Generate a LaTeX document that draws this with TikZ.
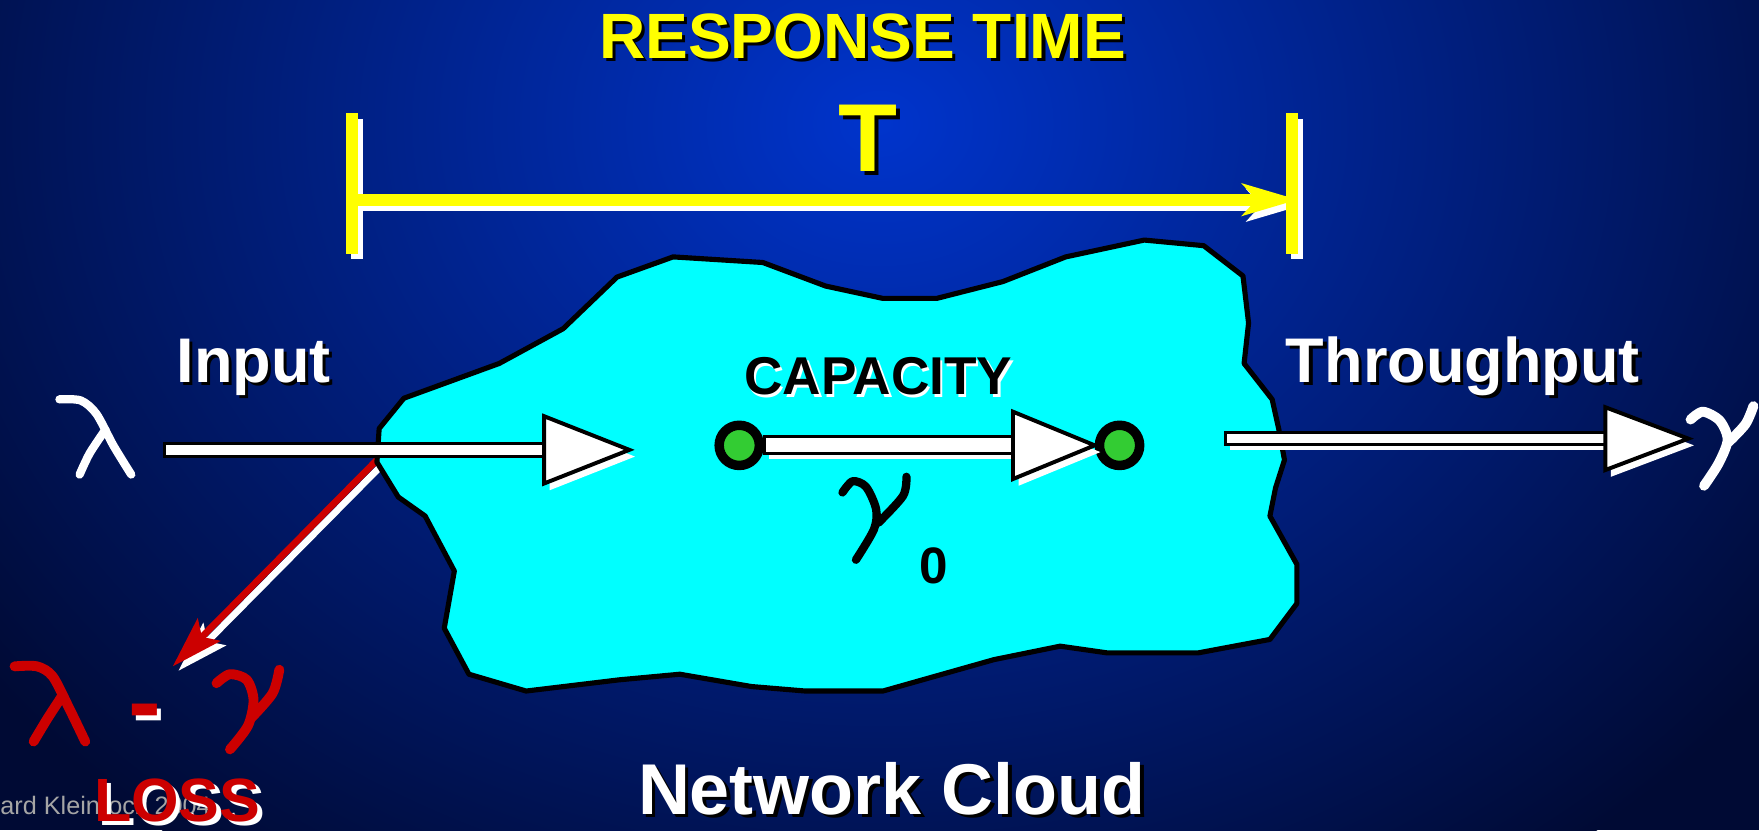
\documentclass[tikz,border=0pt]{standalone}
\usepackage{fontspec}
\setmainfont{Liberation Sans}
\usetikzlibrary{arrows.meta,calc}

\definecolor{bgcentre}{RGB}{0,52,204}
\definecolor{bgedge}{RGB}{0,10,52}
\definecolor{cloudcyan}{RGB}{0,255,255}
\definecolor{nodegreen}{RGB}{51,204,51}
\definecolor{lossred}{RGB}{204,0,0}
\definecolor{timeyellow}{RGB}{255,255,0}
\definecolor{footgray}{RGB}{165,165,165}

\tikzset{
  titletext/.style={font=\bfseries\fontsize{32.5}{40}\selectfont, text=timeyellow, inner sep=0pt, anchor=base},
  bigT/.style={font=\bfseries\fontsize{49}{58}\selectfont, text=timeyellow, inner sep=0pt, anchor=base},
  bigtext/.style={font=\bfseries\fontsize{32}{38}\selectfont, text=white, inner sep=0pt, anchor=base},
  captext/.style={font=\bfseries\fontsize{27}{32}\selectfont, text=black, inner sep=0pt, anchor=base},
  cloudtext/.style={font=\bfseries\fontsize{36.5}{42}\selectfont, text=white, inner sep=0pt, anchor=base},
  losstext/.style={font=\bfseries\fontsize{31}{37}\selectfont, text=lossred, inner sep=0pt, anchor=base},
  dashtext/.style={font=\bfseries\fontsize{50}{58}\selectfont, text=lossred, inner sep=0pt, anchor=base},
  subtext/.style={font=\bfseries\fontsize{26}{31}\selectfont, text=black, inner sep=0pt, anchor=base},
  foot/.style={font=\fontsize{12.8}{15}\selectfont, text=footgray, inner sep=0pt, anchor=base west},
  bracket/.style={color=timeyellow, line width=6pt},
  lossarrow/.style={color=lossred, line width=3.4pt, -{Stealth[length=26pt, width=16pt, inset=5pt]}},
  cloud/.style={fill=cloudcyan, draw=black, line width=2.6pt, line join=round},
  netnode/.style={circle, draw=black, line width=4.8pt, fill=nodegreen, minimum size=20.4pt, inner sep=0pt},
  fatbar/.style={fill=white, draw=black, line width=1.5pt},
  fathead/.style={fill=white, draw=black, line width=2pt},
  pen/.style={line width=4.2pt, line cap=round, line join=round}
}

% white bar with a triangle head: tail, head base, tip, half bar, half head, bar shadow
\newcommand{\fatarrow}[6]{%
  \fill[white] ($(#1)+(4,#6-#4)$) rectangle ($(#2)+(4,#6+#4)$);
  \fill[white] ($(#2)+(5,6-#5)$) -- ($(#2)+(5,6+#5)$) -- ($(#3)+(5,6)$) -- cycle;
  \filldraw[fatbar] ($(#1)+(0,-#4)$) rectangle ($(#2)+(0,#4)$);
  \filldraw[fathead] ($(#2)+(0,-#5)$) -- ($(#2)+(0,#5)$) -- (#3) -- cycle;}

\begin{document}
\begin{tikzpicture}[x=0.02cm, y=-0.02cm]
  \useasboundingbox (0,0) rectangle (1568,740);
  % Background
  \fill[bgedge] (0,0) rectangle (1568,740);
  \begin{scope}
    \clip (0,0) rectangle (1568,740);
    \shade[inner color=bgcentre, outer color=bgedge] (784,110) ellipse [x radius=20cm, y radius=16.4cm];
  \end{scope}

  % Response time bracket
  \coordinate (tleft) at (314,178);
  \coordinate (tright) at (1152,178);
  \foreach \p in {tleft, tright} {
    \draw[bracket, white] ($(\p)+(4,-72)$) -- ($(\p)+(4,53)$);
  }
  \draw[bracket, white, -{Stealth[length=28pt, width=16pt, inset=7pt]}] ($(tleft)+(4,5)$) -- ($(tright)+(9,5)$);
  \foreach \p in {tleft, tright} {
    \draw[bracket] ($(\p)+(0,-77)$) -- ($(\p)+(0,48)$);
  }
  \draw[bracket, -{Stealth[length=28pt, width=16pt, inset=7pt]}] (tleft) -- ($(tright)+(5,0)$);

  % Titles
  \node[titletext, text=black] (title-sh) at (772,55) {RESPONSE TIME};
  \node[titletext] (title) at (769,52) {RESPONSE TIME};
  \node[bigT, text=black] (T-sh) at (777,156) {T};
  \node[bigT] (T) at (774,153) {T};

  % Loss arrow
  \coordinate (lossstart) at (340,406);
  \coordinate (losstip) at (154,594);
  \draw[lossarrow, white] ($(lossstart)+(5,4)$) -- ($(losstip)+(5,4)$);
  \draw[lossarrow] (lossstart) -- (losstip);

  % Network cloud
  \draw[cloud] (360,355) -- (445,324) -- (502,293) -- (550,247) -- (600,229) -- (680,234)
    -- (736,255) -- (787,266) -- (835,266) -- (894,251) -- (950,229) -- (1020,214)
    -- (1073,219) -- (1108,246) -- (1113,288) -- (1109,324) -- (1134,356) -- (1140,383)
    -- (1145,410) -- (1137,435) -- (1132,460) -- (1156,503) -- (1156,538) -- (1132,570)
    -- (1068,582) -- (987,582) -- (945,576) -- (886,588) -- (787,616) -- (718,616)
    -- (670,612) -- (606,601) -- (552,606) -- (469,616) -- (418,601) -- (396,560)
    -- (405,509) -- (379,460) -- (355,443) -- (336,412) -- (338,382) -- cycle;

  % Capacity link
  \node[netnode] (src) at (659,397) {};
  \node[netnode] (dst) at (998,397) {};
  \coordinate (capB) at (903,397);
  \fatarrow{src.east}{capB}{dst.west}{7.5}{30}{5}

  % Input and throughput arrows
  \coordinate (inA) at (147,401);
  \coordinate (inB) at (485,401);
  \coordinate (inC) at (561,401);
  \fatarrow{inA}{inB}{inC}{6}{30}{0}
  \coordinate (outA) at (1092,391);
  \coordinate (outB) at (1431,391);
  \coordinate (outC) at (1505,391);
  \fatarrow{outA}{outB}{outC}{5.5}{28}{5}

  % Labels
  \node[bigtext, text=black] (input-sh) at (229,344) {Input};
  \node[bigtext] (input) at (226,341) {Input};
  \node[bigtext, text=black] (thru-sh) at (1307,344) {Throughput};
  \node[bigtext] (thru) at (1304,341) {Throughput};
  \node[captext, text=white] (cap-sh) at (785,354) {CAPACITY};
  \node[captext] (cap) at (783,352) {CAPACITY};
  \node[cloudtext, text=black] (cloud-sh) at (798,729) {Network Cloud};
  \node[cloudtext] (cloudname) at (795,726) {Network Cloud};

  % Hand-written symbols
  \draw[pen, white] plot[smooth] coordinates {(53,356) (72,357) (86,369) (101,397) (117,423)};
  \draw[pen, white] plot[smooth] coordinates {(94,383) (80,404) (71,423)};
  \draw[pen, white, line width=5pt] plot[smooth] coordinates {(1507,374) (1518,367) (1533,375) (1540,392) (1532,413) (1519,433)};
  \draw[pen, white, line width=5pt] plot[smooth] coordinates {(1563,362) (1556,378) (1541,394)};
  \draw[pen] plot[smooth] coordinates {(751,439) (760,429) (772,434) (781,454) (779,472) (763,499)};
  \draw[pen] plot[smooth] coordinates {(808,425) (805,442) (783,466)};
  \node[subtext] (sub) at (832,520) {0};

  % Loss
  \draw[pen, lossred, line width=5pt] plot[smooth] coordinates {(13,594) (33,594) (47,603) (62,632) (76,661)};
  \draw[pen, lossred, line width=5pt] plot[smooth] coordinates {(55,621) (42,641) (30,661)};
  \node[dashtext, text=white] (dash-sh) at (133,660) {-};
  \node[dashtext] (dash) at (129.5,656) {-};
  \draw[pen, lossred, line width=5pt] plot[smooth] coordinates {(193,609) (205,601) (220,606) (226,624) (221,647) (205,668)};
  \draw[pen, lossred, line width=5pt] plot[smooth] coordinates {(249,597) (243,618) (224,640)};
  \node[foot] (foot) at (0,726) {ard Kleinrock 2004};
  \node[losstext, text=white] (loss-sh) at (162,736) {LOSS};
  \node[losstext] (loss) at (158,732) {LOSS};
\end{tikzpicture}
\end{document}
